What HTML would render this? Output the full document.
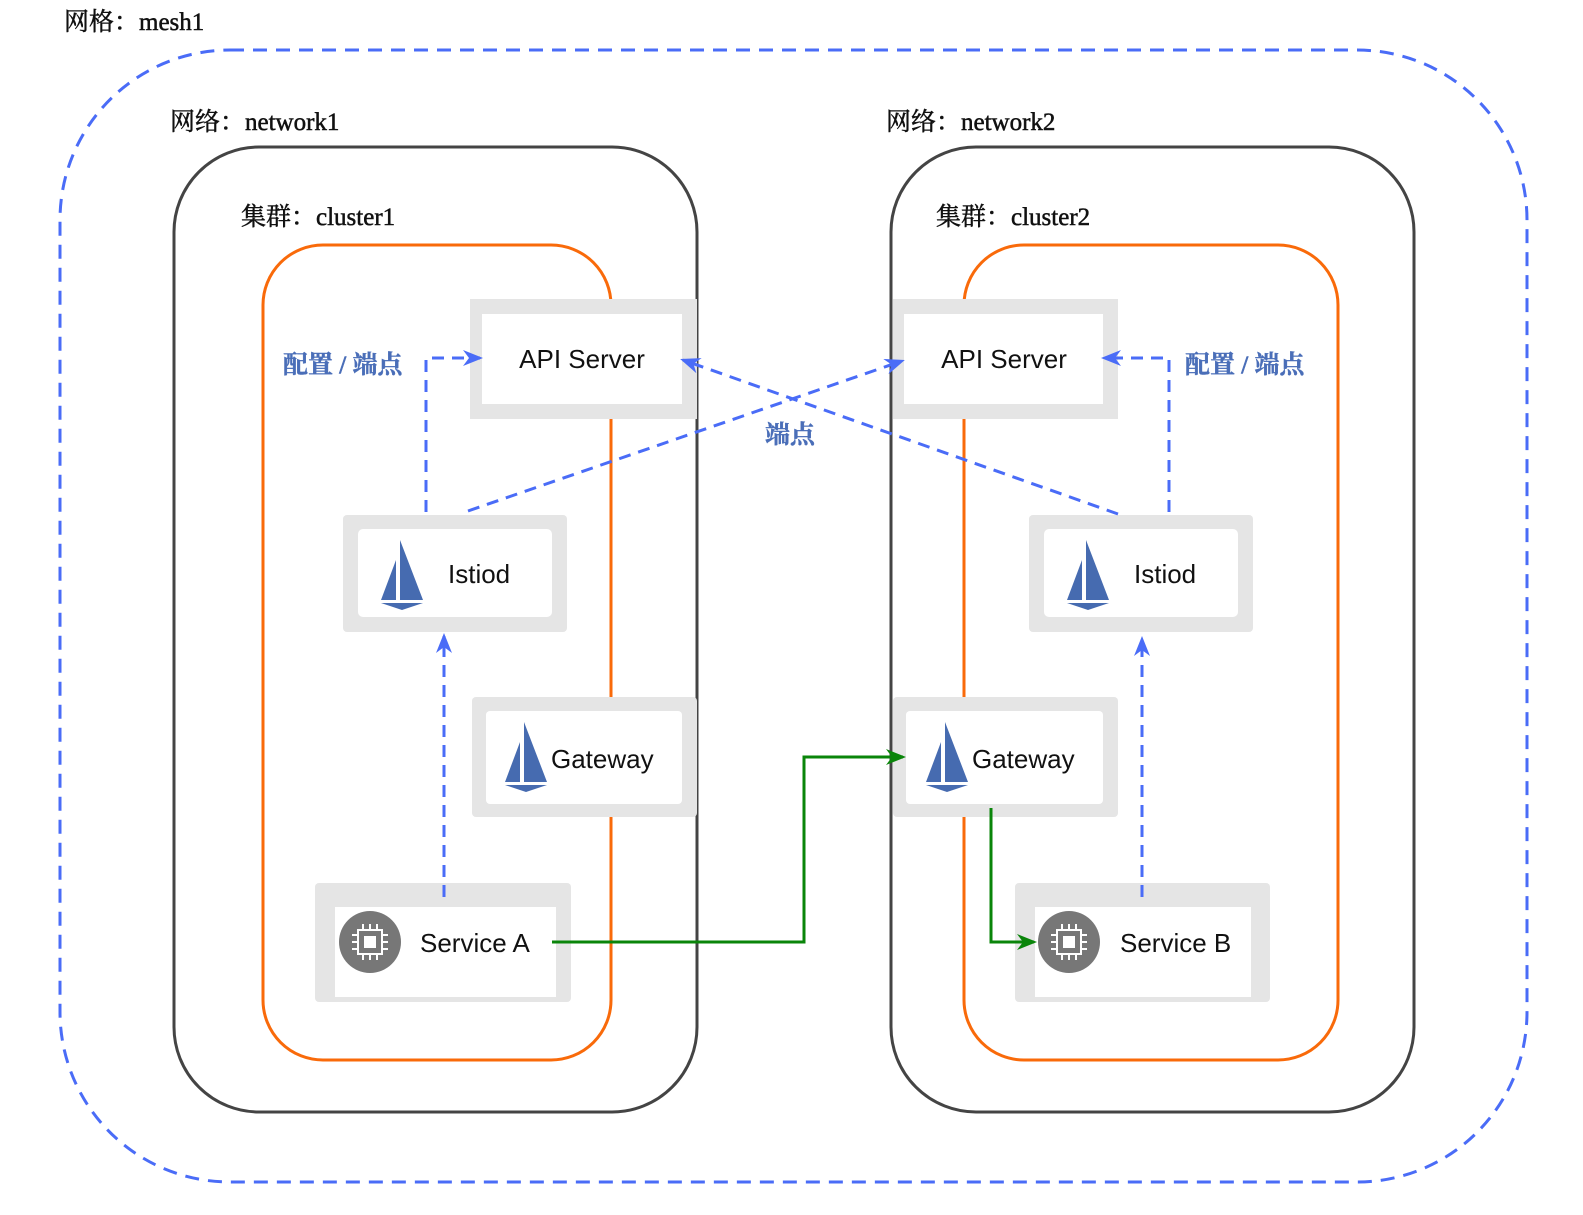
<!DOCTYPE html>
<html><head><meta charset="utf-8"><style>
html,body{margin:0;padding:0;background:#fff;}
svg{display:block}
.t{font-family:"Liberation Serif","Noto Serif CJK SC",serif;font-size:25px;fill:#111;stroke:#111;stroke-width:0.5}
.n{font-family:"Liberation Sans","DejaVu Sans",sans-serif;font-size:26px;fill:#111}
.b{font-family:"Liberation Serif","Noto Serif CJK SC",serif;font-size:25px;font-weight:bold;fill:#4a6eb8;stroke:#4a6eb8;stroke-width:0.4}
</style></head><body>
<svg width="1583" height="1215" viewBox="0 0 1583 1215" xmlns="http://www.w3.org/2000/svg">
<defs>
<marker id="ab" markerWidth="20" markerHeight="16" refX="17" refY="8" orient="auto" markerUnits="userSpaceOnUse"><path d="M0,0 L20,8 L0,16 L6,8Z" fill="#4a6cf7"/></marker>
<marker id="ag" markerWidth="20" markerHeight="16" refX="17" refY="8" orient="auto" markerUnits="userSpaceOnUse"><path d="M0,0 L20,8 L0,16 L6,8Z" fill="#0a850a"/></marker>
<g id="sail"><path d="M19,0 L19,60 L42,60Z M15,20 L15,60 L0,60Z" fill="#466bb0"/><path d="M0,63 L42,63 L21,70Z" fill="#466bb0"/></g>
<g id="chip"><circle cx="0" cy="0" r="31" fill="#777"/><rect x="-12" y="-12" width="24" height="24" fill="none" stroke="#fff" stroke-width="2"/><rect x="-6" y="-6" width="12" height="12" fill="#fff"/><path d="M-7,-12v-6M0,-12v-6M7,-12v-6M-7,12v6M0,12v6M7,12v6M-12,-7h-6M-12,0h-6M-12,7h-6M12,-7h6M12,0h6M12,7h6" stroke="#fff" stroke-width="2"/></g>
</defs>
<text class="t" x="64" y="30">网格：mesh1</text>
<rect x="60" y="50" width="1467" height="1132" rx="170" fill="none" stroke="#4a6cf7" stroke-width="3" stroke-dasharray="14,9"/>
<text class="t" x="170" y="130">网络：network1</text>
<text class="t" x="886" y="130">网络：network2</text>
<rect x="174" y="147" width="523" height="965" rx="85" fill="none" stroke="#444" stroke-width="3"/>
<rect x="891" y="147" width="523" height="965" rx="85" fill="none" stroke="#444" stroke-width="3"/>
<text class="t" x="241" y="225">集群：cluster1</text>
<text class="t" x="936" y="225">集群：cluster2</text>
<rect x="263" y="245" width="348" height="815" rx="60" fill="none" stroke="#f96a0a" stroke-width="3"/>
<rect x="964" y="245" width="374" height="815" rx="60" fill="none" stroke="#f96a0a" stroke-width="3"/>

<rect x="470" y="299" width="227" height="120" fill="#e5e5e5"/><rect x="482" y="314" width="200" height="90" fill="#fff"/>
<text class="n" x="582" y="368" text-anchor="middle">API Server</text>
<rect x="893" y="299" width="225" height="120" fill="#e5e5e5"/><rect x="904" y="314" width="199" height="90" fill="#fff"/>
<text class="n" x="1004" y="368" text-anchor="middle">API Server</text>

<rect x="343" y="515" width="224" height="117" rx="4" fill="#e5e5e5"/><rect x="358" y="529" width="194" height="88" rx="5" fill="#fff"/>
<use href="#sail" x="381" y="540"/><text class="n" x="448" y="583">Istiod</text>
<rect x="1029" y="515" width="224" height="117" rx="4" fill="#e5e5e5"/><rect x="1044" y="529" width="194" height="88" rx="5" fill="#fff"/>
<use href="#sail" x="1067" y="540"/><text class="n" x="1134" y="583">Istiod</text>

<rect x="472" y="697" width="225" height="120" rx="4" fill="#e5e5e5"/><rect x="486" y="711" width="196" height="93" rx="4" fill="#fff"/>
<use href="#sail" x="505" y="722"/><text class="n" x="551" y="768">Gateway</text>
<rect x="893" y="697" width="225" height="120" rx="4" fill="#e5e5e5"/><rect x="906" y="711" width="197" height="93" rx="4" fill="#fff"/>
<use href="#sail" x="926" y="722"/><text class="n" x="972" y="768">Gateway</text>

<rect x="315" y="883" width="256" height="119" rx="4" fill="#e5e5e5"/><rect x="335" y="907" width="221" height="90" fill="#fff"/>
<use href="#chip" x="370" y="942"/><text class="n" x="420" y="952">Service A</text>
<rect x="1015" y="883" width="255" height="119" rx="4" fill="#e5e5e5"/><rect x="1035" y="907" width="216" height="90" fill="#fff"/>
<use href="#chip" x="1069" y="942"/><text class="n" x="1120" y="952">Service B</text>

<g fill="none" stroke="#4a6cf7" stroke-width="3" stroke-dasharray="12,8">
<path d="M426,512 V358 H480" marker-end="url(#ab)"/>
<path d="M468,511 L902,361" marker-end="url(#ab)"/>
<path d="M1118,514 L683,360" marker-end="url(#ab)"/>
<path d="M1169,512 V358 H1104" marker-end="url(#ab)"/>
<path d="M444,897 V636" marker-end="url(#ab)"/>
<path d="M1142,897 V639" marker-end="url(#ab)"/>
</g>
<g fill="none" stroke="#0a850a" stroke-width="3">
<path d="M552,942 H804 V757 H903" marker-end="url(#ag)"/>
<path d="M991,808 V942 H1034" marker-end="url(#ag)"/>
</g>
<text class="b" x="283" y="373">配置 / 端点</text>
<text class="b" x="1185" y="373">配置 / 端点</text>
<text class="b" x="765" y="443">端点</text>
</svg>
</body></html>
